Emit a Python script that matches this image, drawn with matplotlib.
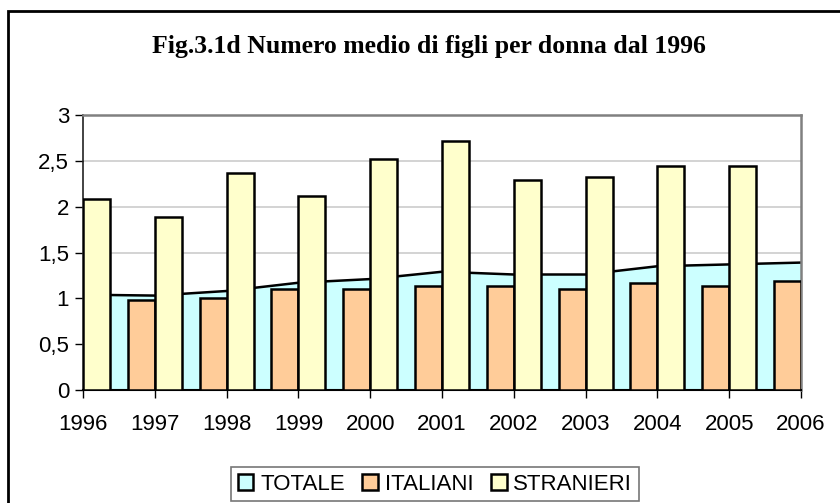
import numpy as np
import matplotlib
matplotlib.use('Agg')
import matplotlib.pyplot as plt
from matplotlib.patches import Rectangle, Patch
from matplotlib.ticker import FuncFormatter

anni = [1996, 1997, 1998, 1999, 2000, 2001, 2002, 2003, 2004, 2005, 2006]
totale = [1.04, 1.03, 1.08, 1.17, 1.21, 1.29, 1.26, 1.26, 1.35, 1.37, 1.39]
italiani = [np.nan, 0.98, 1.00, 1.10, 1.10, 1.13, 1.13, 1.10, 1.17, 1.13, 1.19]
stranieri = [2.08, 1.89, 2.37, 2.12, 2.52, 2.72, 2.29, 2.32, 2.44, 2.44, np.nan]

plt.rcParams['font.family'] = ['Liberation Sans', 'DejaVu Sans']

fig = plt.figure(figsize=(8.4, 5.03), dpi=100)
ax = fig.add_axes([83 / 840, 1 - 390 / 503, 718 / 840, 275 / 503])

# cornice esterna
fig.patches.append(Rectangle((8 / 840, -0.1), 1.1, 1 - 11 / 503 + 0.1,
                             transform=fig.transFigure, fill=False,
                             edgecolor='black', linewidth=2))

ax.fill_between(anni, totale, 0, facecolor='#CCFFFF', edgecolor='none', zorder=1)
ax.plot(anni, totale, color='black', linewidth=1.8, zorder=2)

w = 0.375
ax.bar(anni, italiani, width=-w, align='edge', color='#FFCC99',
       edgecolor='black', linewidth=1.8, zorder=3)
ax.bar(anni, stranieri, width=w, align='edge', color='#FFFFCC',
       edgecolor='black', linewidth=1.8, zorder=3)

ax.set_xlim(1996, 2006)
ax.set_ylim(0, 3)
ax.set_xticks(anni)
ax.set_yticks(np.arange(0, 3.01, 0.5))
ax.yaxis.set_major_formatter(FuncFormatter(lambda v, p: f'{v:g}'.replace('.', ',')))
ax.tick_params(labelsize=16, length=6, width=1, color='black', pad=4)
ax.tick_params(axis='x', pad=11)

ax.grid(axis='y', color='#cccccc', linewidth=1.2, zorder=0)
ax.set_axisbelow(True)
for s in ['top', 'right']:
    ax.spines[s].set_color('#808080')
    ax.spines[s].set_linewidth(1.8)
ax.spines['left'].set_color('#222222')
ax.spines['bottom'].set_color('black')
ax.spines['left'].set_linewidth(1.2)
ax.spines['bottom'].set_linewidth(1.5)

fig.text(429 / 840, 1 - 46 / 503, 'Fig.3.1d Numero medio di figli per donna dal 1996',
         ha='center', va='center', fontsize=18.5, family='Liberation Serif',
         fontweight='bold')

handles = [Patch(facecolor='#CCFFFF', edgecolor='black', linewidth=1.8),
           Patch(facecolor='#FFCC99', edgecolor='black', linewidth=1.8),
           Patch(facecolor='#FFFFCC', edgecolor='black', linewidth=1.8)]
leg = fig.legend(handles, ['TOTALE', 'ITALIANI', 'STRANIERI'], ncol=3,
                 loc='center', bbox_to_anchor=(435 / 840, 1 - 484 / 503),
                 fontsize=16, frameon=True, fancybox=False,
                 handlelength=0.7, handleheight=0.7, handletextpad=0.3,
                 columnspacing=0.8, borderpad=0.3)
leg.get_frame().set_edgecolor('#555555')
leg.get_frame().set_linewidth(1.2)

plt.savefig('out.png', dpi=100)
